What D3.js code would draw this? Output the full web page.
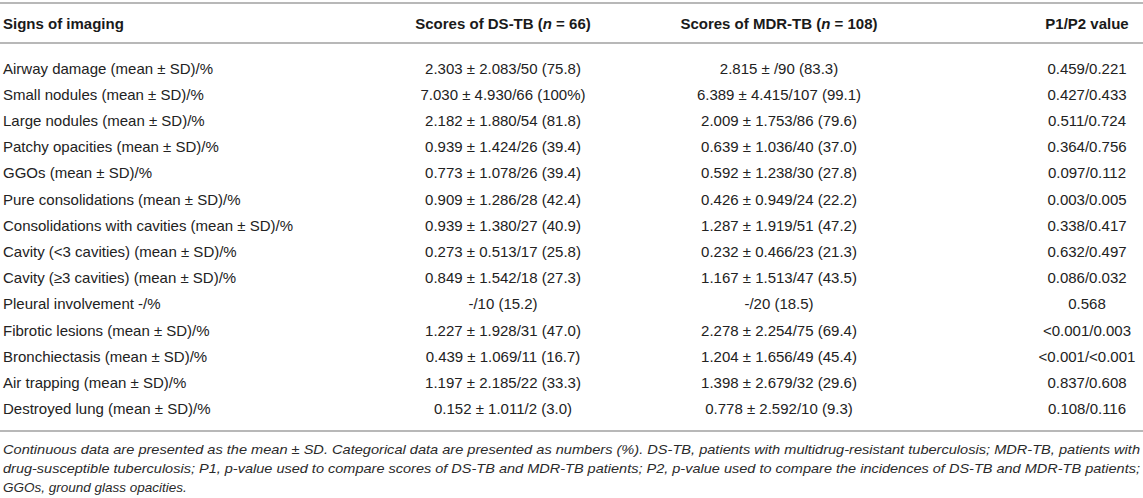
<!DOCTYPE html>
<html>
<head>
<meta charset="utf-8">
<script src="https://cdn.jsdelivr.net/npm/d3@7"></script>
<style>
  html, body { margin: 0; padding: 0; background: #fff; }
  svg { display: block; }
</style>
</head>
<body>
<svg id="chart" width="1143" height="498"></svg>
<script>
// ---------- data ----------
const columns = ["sign", "ds", "mdr", "p"];
const headerParts = [
  [["Signs of imaging", false]],
  [["Scores of DS-TB (", false], ["n", true], [" = 66)", false]],
  [["Scores of MDR-TB (", false], ["n", true], [" = 108)", false]],
  [["P1/P2 value", false]]
];
const signs = [
  "Airway damage (mean ± SD)/%",
  "Small nodules (mean ± SD)/%",
  "Large nodules (mean ± SD)/%",
  "Patchy opacities (mean ± SD)/%",
  "GGOs (mean ± SD)/%",
  "Pure consolidations (mean ± SD)/%",
  "Consolidations with cavities (mean ± SD)/%",
  "Cavity (<3 cavities) (mean ± SD)/%",
  "Cavity (≥3 cavities) (mean ± SD)/%",
  "Pleural involvement -/%",
  "Fibrotic lesions (mean ± SD)/%",
  "Bronchiectasis (mean ± SD)/%",
  "Air trapping (mean ± SD)/%",
  "Destroyed lung (mean ± SD)/%"
];
const dsTB = [
  "2.303 ± 2.083/50 (75.8)",
  "7.030 ± 4.930/66 (100%)",
  "2.182 ± 1.880/54 (81.8)",
  "0.939 ± 1.424/26 (39.4)",
  "0.773 ± 1.078/26 (39.4)",
  "0.909 ± 1.286/28 (42.4)",
  "0.939 ± 1.380/27 (40.9)",
  "0.273 ± 0.513/17 (25.8)",
  "0.849 ± 1.542/18 (27.3)",
  "-/10 (15.2)",
  "1.227 ± 1.928/31 (47.0)",
  "0.439 ± 1.069/11 (16.7)",
  "1.197 ± 2.185/22 (33.3)",
  "0.152 ± 1.011/2 (3.0)"
];
const mdrTB = [
  "2.815 ± /90 (83.3)",
  "6.389 ± 4.415/107 (99.1)",
  "2.009 ± 1.753/86 (79.6)",
  "0.639 ± 1.036/40 (37.0)",
  "0.592 ± 1.238/30 (27.8)",
  "0.426 ± 0.949/24 (22.2)",
  "1.287 ± 1.919/51 (47.2)",
  "0.232 ± 0.466/23 (21.3)",
  "1.167 ± 1.513/47 (43.5)",
  "-/20 (18.5)",
  "2.278 ± 2.254/75 (69.4)",
  "1.204 ± 1.656/49 (45.4)",
  "1.398 ± 2.679/32 (29.6)",
  "0.778 ± 2.592/10 (9.3)"
];
const pValues = [
  "0.459/0.221",
  "0.427/0.433",
  "0.511/0.724",
  "0.364/0.756",
  "0.097/0.112",
  "0.003/0.005",
  "0.338/0.417",
  "0.632/0.497",
  "0.086/0.032",
  "0.568",
  "<0.001/0.003",
  "<0.001/<0.001",
  "0.837/0.608",
  "0.108/0.116"
];
const captionLines = [
  "Continuous data are presented as the mean ± SD. Categorical data are presented as numbers (%). DS-TB, patients with multidrug-resistant tuberculosis; MDR-TB, patients with",
  "drug-susceptible tuberculosis; P1, p-value used to compare scores of DS-TB and MDR-TB patients; P2, p-value used to compare the incidences of DS-TB and MDR-TB patients;",
  "GGOs, ground glass opacities."
];

// ---------- layout ----------
const W = 1143;
const FONT = "'Liberation Sans', Arial, Helvetica, sans-serif";
const svg = d3.select("#chart");

// column anchor scale (ordinal)
const xCol = d3.scaleOrdinal().domain(columns).range([3, 503, 779, 1087]);
const anchorCol = d3.scaleOrdinal().domain(columns).range(["start", "middle", "middle", "middle"]);

// rows
const y = d3.scaleBand().domain(signs).range([55, 55 + signs.length * 26.2]);
const headerY = 24;
const rules = [3, 43, 431];

const rows = signs.map((s, i) => ({ sign: s, ds: dsTB[i], mdr: mdrTB[i], p: pValues[i] }));

// rules
svg.selectAll("line.rule").data(rules).join("line")
  .attr("class", "rule")
  .attr("x1", 0).attr("x2", W)
  .attr("y1", d => d).attr("y2", d => d)
  .attr("stroke", "#b8b8b8").attr("stroke-width", 2);

// header
const hdr = svg.append("g").attr("font-family", FONT).attr("font-size", 15)
  .attr("font-weight", "bold").attr("fill", "#1a1a1a");
columns.forEach((c, ci) => {
  const t = hdr.append("text")
    .attr("x", xCol(c)).attr("y", headerY).attr("dy", "0.36em")
    .attr("text-anchor", anchorCol(c));
  headerParts[ci].forEach(([txt, it]) => {
    t.append("tspan").attr("font-style", it ? "italic" : "normal").text(txt);
  });
});

// body
const body = svg.append("g").attr("font-family", FONT).attr("font-size", 15).attr("fill", "#222");
columns.forEach(c => {
  body.selectAll("text.c-" + c).data(rows).join("text")
    .attr("class", "c-" + c)
    .attr("x", xCol(c))
    .attr("y", d => y(d.sign) + y.bandwidth() / 2)
    .attr("dy", "0.36em")
    .attr("text-anchor", anchorCol(c))
    .text(d => d[c]);
});

// caption
const capY = d3.scalePoint().domain(d3.range(captionLines.length)).range([449, 487]);
svg.append("g").attr("font-family", FONT).attr("font-size", 13.5)
  .attr("font-style", "italic").attr("fill", "#2a2a2a")
  .selectAll("text").data(captionLines).join("text")
  .attr("x", 3)
  .attr("y", (d, i) => capY(i))
  .attr("dy", "0.36em")
  .each(function(d, i) {
    const sel = d3.select(this).text(d);
    if (i < captionLines.length - 1) {
      sel.attr("textLength", W - 6).attr("lengthAdjust", "spacingAndGlyphs");
    }
  });
</script>
</body>
</html>
